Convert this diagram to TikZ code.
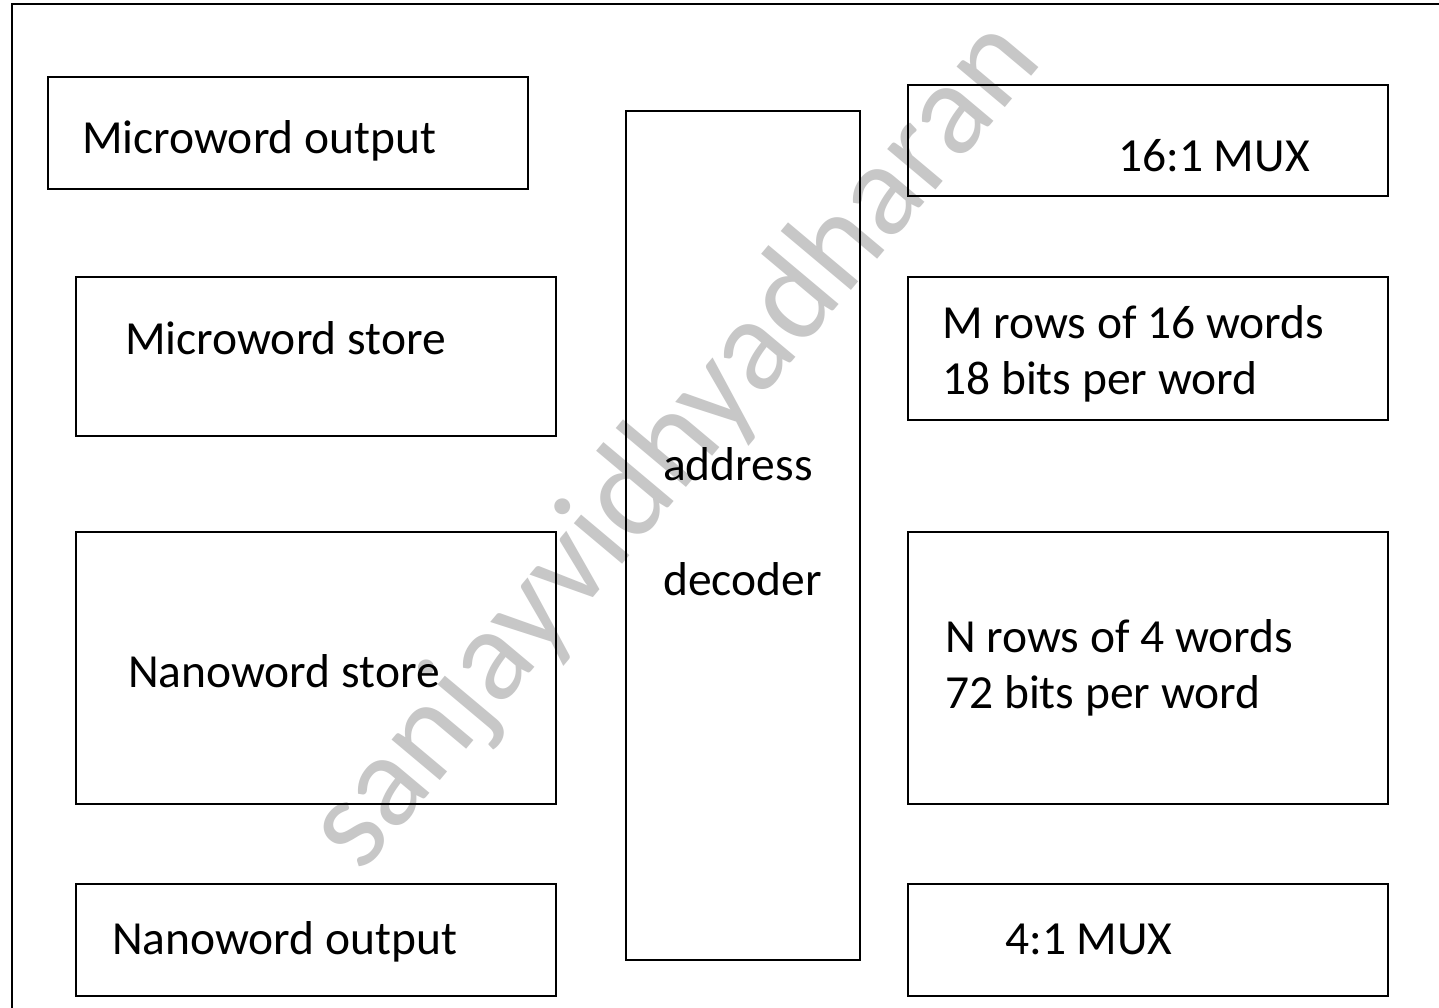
\documentclass[tikz,border=0pt]{standalone}
\usepackage{fontspec}
\setmainfont{Carlito}
\begin{document}
\begin{tikzpicture}[x=1pt,y=-1pt,
  box/.style={draw=black,line width=1.6pt,inner sep=0pt,fill=none},
  lbl/.style={anchor=base west,inner sep=0pt,font=\fontsize{47.5}{57}\selectfont},
  wmark/.style={text=black!22,rotate=50,inner sep=0pt,font=\fontsize{132}{132}\selectfont}]
\useasboundingbox (0,0) rectangle (1439,1007);
\clip (0,0) rectangle (1439,1007);
\fill[white] (0,0) rectangle (1439,1007);
% watermark
\node[wmark] (wm) at (676,446) {sanjayvidhyadharan};
% outer frame
\draw[line width=2.6pt] (12,1030) -- (12,4) -- (1460,4);
% boxes
\node[box,minimum width=480pt,minimum height=112pt] (mwo) at (288,133) {};
\node[box,minimum width=480pt,minimum height=159pt] (mws) at (316,356.5) {};
\node[box,minimum width=480pt,minimum height=272pt] (nws) at (316,668) {};
\node[box,minimum width=480pt,minimum height=112pt] (nwo) at (316,940) {};
\node[box,minimum width=234pt,minimum height=849pt] (dec) at (743,535.5) {};
\node[box,minimum width=480pt,minimum height=111pt] (mux16) at (1148,140.5) {};
\node[box,minimum width=480pt,minimum height=143pt] (mrows) at (1148,348.5) {};
\node[box,minimum width=480pt,minimum height=272pt] (nrows) at (1148,668) {};
\node[box,minimum width=480pt,minimum height=112pt] (mux4) at (1148,940) {};
% labels
\node[lbl] (t1) at (82,153) {Microword output};
\node[lbl] (t2) at (1118,171) {16:1 MUX};
\node[lbl] (t3) at (125,354) {Microword store};
\node[lbl] (t4) at (942,338) {M rows of 16 words};
\node[lbl] (t5) at (942,394) {18 bits per word};
\node[lbl] (t6) at (663,480) {address};
\node[lbl] (t7) at (663,595) {decoder};
\node[lbl] (t8) at (128,687) {Nanoword store};
\node[lbl] (t9) at (945,652) {N rows of 4 words};
\node[lbl] (t10) at (945,708) {72 bits per word};
\node[lbl] (t11) at (112,954) {Nanoword output};
\node[lbl] (t12) at (1005,954) {4:1 MUX};
\end{tikzpicture}
\end{document}
